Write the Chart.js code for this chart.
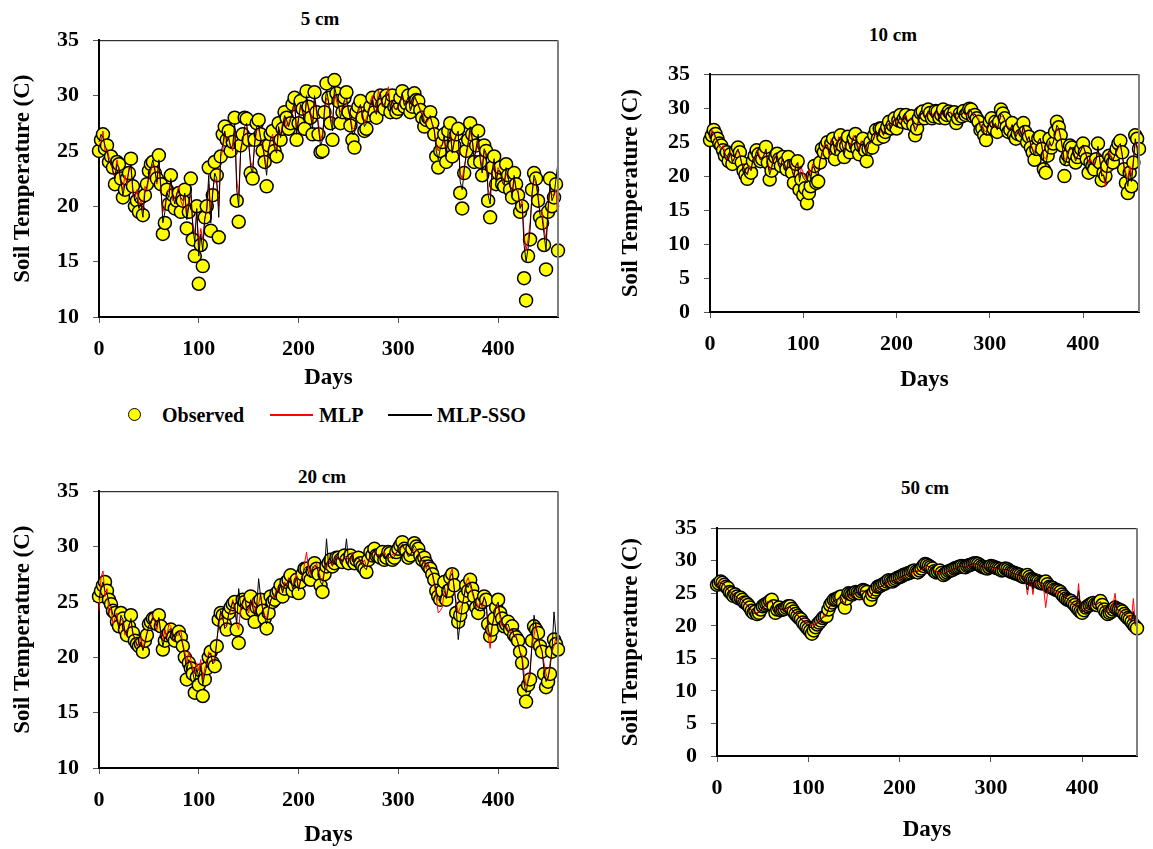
<!DOCTYPE html>
<html>
<head>
<meta charset="utf-8">
<script src="https://cdn.jsdelivr.net/npm/chart.js@4.4.0/dist/chart.umd.min.js"></script>
<style>
  body { margin: 0; background: #fff; width: 1153px; height: 849px; position: relative; overflow: hidden;
         font-family: "Liberation Serif", "Times New Roman", serif; }
  canvas { position: absolute; }
  .ttl { position: absolute; font-weight: bold; font-size: 19px; line-height: 22px; transform: translateX(-50%); white-space: nowrap; }
  .leg { position: absolute; font-weight: bold; font-size: 20px; line-height: 22px; white-space: nowrap; }
  .dot { position: absolute; width: 11px; height: 11px; border-radius: 50%; background: #ffff00; border: 1.5px solid #000; }
  .ln { position: absolute; height: 1.5px; }
</style>
</head>
<body>
<div class="ttl" style="left:320px; top:8px;">5 cm</div>
<div class="ttl" style="left:893px; top:24px;">10 cm</div>
<div class="ttl" style="left:322px; top:466px;">20 cm</div>
<div class="ttl" style="left:925px; top:477px;">50 cm</div>

<div class="dot" style="left:128px; top:408px;"></div>
<div class="leg" style="left:162px; top:404px;">Observed</div>
<div class="ln" style="left:270px; top:414px; width:43px; background:#ff0000;"></div>
<div class="leg" style="left:319px; top:404px;">MLP</div>
<div class="ln" style="left:388px; top:414px; width:44px; background:#000;"></div>
<div class="leg" style="left:437px; top:404px;">MLP-SSO</div>

<canvas id="c5" width="570" height="387" style="left:0px; top:13px;"></canvas>
<canvas id="c10" width="540" height="358" style="left:610px; top:47px;"></canvas>
<canvas id="c20" width="570" height="385" style="left:0px; top:464px;"></canvas>
<canvas id="c50" width="540" height="348" style="left:610px; top:501px;"></canvas>

<script>
// days (every 2nd day)
var days = [0,2,4,6,8,10,12,14,16,18,
  20,22,24,26,28,30,32,34,36,38,
  40,42,44,46,48,50,52,54,56,58,
  60,62,64,66,68,70,72,74,76,78,
  80,82,84,86,88,90,92,94,96,98,
  100,102,104,106,108,110,112,114,116,118,
  120,122,124,126,128,130,132,134,136,138,
  140,142,144,146,148,150,152,154,156,158,
  160,162,164,166,168,170,172,174,176,178,
  180,182,184,186,188,190,192,194,196,198,
  200,202,204,206,208,210,212,214,216,218,
  220,222,224,226,228,230,232,234,236,238,
  240,242,244,246,248,250,252,254,256,258,
  260,262,264,266,268,270,272,274,276,278,
  280,282,284,286,288,290,292,294,296,298,
  300,302,304,306,308,310,312,314,316,318,
  320,322,324,326,328,330,332,334,336,338,
  340,342,344,346,348,350,352,354,356,358,
  360,362,364,366,368,370,372,374,376,378,
  380,382,384,386,388,390,392,394,396,398,
  400,402,404,406,408,410,412,414,416,418,
  420,422,424,426,428,430,432,434,436,438,
  440,442,444,446,448,450,452,454,456,458,
  460];

var xTicks = [0, 100, 200, 300, 400];
var yTicksA = [10, 15, 20, 25, 30, 35];
var yTicksB = [0, 5, 10, 15, 20, 25, 30, 35];

// 5 cm
var obs5 = [25.0,26.0,26.5,25.2,25.5,24.0,24.5,23.5,22.0,24.0,
  23.8,22.5,20.8,21.5,22.5,23.0,24.3,21.8,20.0,20.5,
  19.5,20.8,19.2,21.0,22.0,23.2,23.8,24.0,23.0,22.5,
  24.6,22.0,17.5,18.5,21.5,20.2,22.8,21.0,19.8,20.5,
  21.2,19.5,20.5,21.5,18.0,19.5,22.5,17.0,15.5,20.0,
  13.0,16.5,14.6,19.0,20.0,23.5,17.8,21.0,24.0,22.8,
  17.2,24.5,26.5,27.2,26.0,26.8,25.0,25.8,28.0,20.5,
  18.6,25.5,26.5,28.0,27.9,26.0,23.0,22.5,26.0,27.5,
  27.8,26.5,25.0,24.0,21.8,25.5,26.5,26.8,25.0,24.5,
  27.5,26.0,27.0,28.5,28.0,27.0,27.5,29.2,29.8,26.0,
  27.5,29.5,28.8,27.0,30.4,29.0,28.0,26.5,30.3,28.5,
  26.5,24.9,25.0,28.5,31.1,29.8,27.5,26.0,31.4,30.2,
  29.5,27.5,28.5,29.8,30.3,28.5,27.3,26.0,25.3,28.5,
  29.0,29.5,28.0,26.8,27.0,28.2,29.0,29.8,28.5,28.0,
  29.5,30.0,29.2,28.8,30.0,29.5,28.5,30.0,29.0,28.5,
  28.8,29.8,30.4,29.0,29.3,30.0,28.5,29.0,30.2,29.6,
  29.5,28.7,28.0,27.2,27.8,28.0,28.5,27.5,26.5,24.5,
  23.5,25.0,25.8,26.5,24.0,26.8,27.5,24.5,25.5,26.5,
  27.0,21.2,19.8,23.0,25.0,26.0,27.5,26.5,24.0,25.5,
  26.8,24.0,22.8,25.5,25.0,20.5,19.0,23.5,24.5,22.0,
  23.0,23.5,22.0,21.8,23.8,22.8,21.5,20.8,23.0,22.0,
  21.0,19.5,20.0,13.5,11.5,15.5,17.0,21.5,23.0,22.5,
  20.5,19.0,18.5,16.5,14.3,19.5,22.5,20.0,20.8,22.0,
  16.0];
var mlp5 = [25.5,25.8,26.8,25.0,25.2,24.5,24.0,23.0,22.8,24.2,
  23.2,22.0,21.5,22.8,22.0,23.5,23.5,21.0,20.8,21.5,
  20.2,20.5,19.6,21.8,21.5,22.5,23.2,23.8,23.5,22.0,
  24.0,21.5,19.5,20.0,21.0,21.5,22.2,20.5,20.8,21.0,
  21.8,20.5,20.0,21.0,19.2,20.5,21.0,18.5,17.5,19.5,
  16.5,18.0,17.0,19.0,19.5,22.0,19.0,21.5,22.5,22.0,
  20.0,24.5,25.0,26.5,26.2,26.0,25.5,25.0,27.0,22.5,
  21.0,25.0,25.8,27.0,27.2,25.5,24.0,23.5,25.5,26.8,
  27.0,26.0,25.8,24.5,23.5,25.0,26.0,26.5,25.5,25.0,
  27.0,26.5,27.5,28.0,27.2,27.5,28.0,28.5,29.2,27.0,
  28.0,29.0,28.5,28.0,29.5,29.0,28.5,27.5,29.8,28.5,
  27.5,26.0,26.5,28.5,29.8,29.5,28.0,27.5,30.2,29.5,
  29.0,28.5,29.0,29.5,29.5,28.5,28.0,27.0,27.0,28.0,
  28.5,29.0,28.5,27.5,28.0,28.5,29.5,30.0,28.8,28.5,
  30.5,29.8,29.0,29.2,29.8,30.8,29.0,29.5,28.8,28.8,
  29.2,29.5,30.0,29.2,29.5,29.8,28.8,29.2,29.8,29.5,
  29.0,28.8,28.5,27.8,27.5,27.8,28.0,27.5,27.0,25.5,
  25.0,25.5,25.5,26.0,25.0,26.5,26.5,25.0,26.0,26.5,
  26.5,23.0,22.5,23.5,24.5,25.5,26.8,26.0,24.5,25.0,
  26.0,24.5,23.5,25.0,24.5,21.5,21.0,23.0,24.0,22.5,
  23.5,23.0,22.5,22.0,23.0,22.5,22.0,21.0,22.5,21.5,
  21.5,20.0,20.5,17.5,16.0,17.0,18.5,21.0,22.5,22.0,
  21.0,19.5,19.5,18.0,17.0,19.5,21.5,21.0,21.0,21.5,
  18.5];
var sso5 = [25.8,26.5,26.2,25.5,25.0,24.0,24.2,23.2,22.5,23.8,
  23.5,22.2,21.0,22.0,22.2,23.2,23.8,21.5,20.5,20.8,
  19.8,20.2,19.0,21.2,21.8,22.8,23.5,24.2,23.2,22.2,
  24.2,21.8,18.5,19.5,21.2,20.8,22.5,21.0,20.2,21.2,
  21.5,20.8,20.5,21.2,18.8,20.0,21.8,18.0,16.8,19.8,
  15.5,17.5,16.0,18.8,19.8,22.8,18.5,21.2,23.0,22.5,
  19.0,24.8,25.5,26.8,25.8,26.2,25.2,25.5,27.5,21.5,
  20.0,25.2,26.0,27.2,27.5,25.8,23.5,23.0,25.8,27.2,
  27.3,26.2,25.5,24.2,22.8,25.2,26.2,26.2,25.2,24.8,
  27.2,26.2,27.2,28.2,27.8,27.2,27.8,28.8,29.5,26.5,
  27.8,29.2,28.7,27.5,30.0,28.8,28.2,27.0,30.0,28.8,
  27.0,25.5,26.0,28.8,30.5,29.5,27.8,26.8,30.8,30.0,
  29.2,28.0,28.8,29.6,29.8,28.8,27.8,26.5,26.5,28.2,
  28.8,29.2,28.2,27.2,27.5,28.4,29.2,29.6,28.6,28.3,
  29.8,30.2,29.1,28.9,29.9,30.2,28.8,29.6,28.9,28.7,
  29.0,29.6,30.2,29.1,29.4,29.9,28.6,29.1,30.0,29.6,
  29.2,28.6,28.2,27.5,27.7,27.9,28.2,27.4,26.8,25.0,
  24.2,25.2,25.6,26.4,24.5,26.9,27.0,24.8,25.8,26.4,
  26.8,22.2,21.5,23.2,24.8,25.8,27.2,26.2,24.2,25.3,
  26.5,24.2,23.0,25.2,24.8,21.0,20.2,23.2,24.3,22.2,
  23.2,23.2,22.2,21.9,23.5,22.6,21.8,20.9,22.8,21.6,
  21.2,19.8,20.2,16.5,15.0,16.2,17.8,21.2,22.8,22.3,
  20.8,19.2,19.0,17.5,16.0,19.8,22.0,20.5,21.0,22.5,
  24.0];

// 10 cm
var obs10 = [25.3,26.0,26.8,26.2,25.5,24.8,24.5,23.8,23.0,23.5,
  22.2,23.2,21.8,22.8,23.8,24.2,23.5,22.0,20.8,20.2,
  19.6,21.0,20.5,22.2,23.0,23.8,23.2,22.2,22.5,23.5,
  24.3,22.0,19.5,20.8,22.0,22.8,23.3,22.5,21.5,22.8,
  22.0,21.0,22.8,21.5,20.5,19.0,21.8,22.2,18.0,19.5,
  17.2,18.2,16.0,17.5,18.5,20.0,21.5,19.0,19.2,22.0,
  24.0,23.5,24.5,25.0,23.5,24.8,25.5,22.5,24.0,25.2,
  26.0,24.5,22.8,24.5,25.8,23.5,24.5,25.5,26.2,24.0,
  23.2,24.5,25.5,23.8,22.2,24.0,25.0,24.2,26.0,26.8,
  25.5,27.0,27.0,25.8,26.5,27.2,28.0,27.0,27.5,28.5,
  27.0,28.2,29.0,28.0,28.5,29.0,27.8,28.5,28.8,27.5,
  26.0,27.0,28.5,29.3,29.5,28.5,29.0,29.8,29.3,28.5,
  28.8,29.6,29.5,28.6,29.0,29.8,28.5,29.0,29.5,29.2,
  28.8,29.4,27.8,28.5,29.2,28.8,29.6,29.0,29.3,29.9,
  29.8,28.8,29.0,28.5,28.0,26.8,27.0,26.0,25.3,27.0,
  28.0,28.5,27.0,28.0,26.5,28.0,29.8,29.2,28.5,27.2,
  26.5,26.8,27.8,26.0,25.5,26.2,27.0,26.0,27.8,26.5,
  25.0,25.8,24.2,23.5,22.4,24.0,25.5,25.8,24.0,21.0,
  20.5,23.0,25.5,24.2,24.8,26.5,28.0,27.2,26.0,24.5,
  20.0,22.5,23.0,24.5,24.2,23.2,22.0,22.8,23.5,24.0,
  24.8,23.5,22.5,20.5,22.0,21.5,21.0,22.5,24.8,22.0,
  19.4,20.5,20.0,21.5,23.0,22.5,22.0,23.2,24.0,24.8,
  25.2,23.5,21.0,19.0,17.5,20.5,18.5,22.0,26.0,25.5,
  24.0];
var mlp10 = [25.8,26.8,26.2,25.5,25.0,24.2,24.0,24.5,23.5,22.5,
  22.8,23.5,22.2,22.5,23.2,23.8,23.0,22.0,21.5,20.5,
  20.5,21.5,21.0,22.5,22.5,23.8,23.5,22.5,22.8,23.0,
  23.8,22.0,20.8,21.5,22.5,23.0,22.8,21.8,21.8,22.5,
  21.5,21.0,22.2,21.8,21.0,20.2,21.5,22.0,19.8,21.2,
  20.5,19.8,19.5,21.0,20.0,21.8,21.0,20.5,20.5,22.5,
  23.0,24.5,24.8,24.2,23.0,25.5,25.0,23.5,24.5,25.8,
  25.5,24.5,23.5,24.8,25.0,24.2,25.2,26.0,25.8,24.5,
  24.0,25.2,25.0,24.2,23.5,24.8,24.8,25.2,25.5,26.5,
  26.0,26.5,26.5,26.2,27.0,27.5,27.5,27.2,27.8,28.5,
  27.5,28.2,28.5,28.0,28.2,29.0,28.0,28.2,28.5,27.8,
  27.0,27.5,28.2,29.0,29.2,28.8,28.8,29.5,29.0,28.8,
  29.2,29.5,29.0,28.5,29.3,29.6,28.8,29.0,29.2,29.5,
  29.0,29.3,28.5,28.8,29.0,29.2,29.3,29.0,29.0,29.8,
  29.5,29.0,29.2,28.8,28.5,27.5,27.5,26.8,26.5,27.2,
  27.5,28.0,27.2,27.5,27.0,28.0,28.8,28.8,28.2,27.5,
  27.2,27.0,27.5,26.5,26.2,26.5,26.8,26.0,27.2,26.0,
  25.5,25.8,24.8,24.0,23.5,24.5,25.0,25.5,24.5,22.8,
  22.5,23.5,24.8,24.5,25.0,26.0,27.0,26.8,25.5,24.0,
  22.5,22.5,23.5,24.2,24.0,23.5,22.5,23.0,23.2,23.8,
  24.5,23.8,23.0,22.0,22.5,22.0,21.8,22.5,24.0,22.5,
  20.5,20.0,18.5,21.0,23.5,23.0,22.5,23.0,23.5,24.2,
  24.5,23.0,21.5,20.5,19.5,21.5,20.0,22.5,25.0,24.5,
  23.5];
var sso10 = [25.5,26.4,26.5,25.8,25.2,24.5,24.2,24.0,23.2,23.0,
  22.5,23.4,22.0,22.6,23.5,24.0,23.2,21.8,21.2,20.6,
  20.2,21.2,20.8,22.4,22.8,23.6,23.0,22.4,22.6,23.2,
  24.0,21.6,20.2,21.2,22.2,22.8,23.0,22.0,21.6,22.6,
  21.8,20.8,22.5,21.6,20.8,19.8,21.6,22.0,19.2,20.6,
  19.8,19.4,19.0,20.6,19.6,21.4,21.2,20.2,20.2,22.2,
  23.5,24.0,24.5,24.6,23.2,25.2,25.2,23.2,24.2,25.4,
  25.8,24.6,23.2,24.6,25.4,24.0,24.8,25.6,26.0,24.2,
  23.6,24.8,25.2,24.0,23.0,24.6,25.0,25.0,25.8,26.6,
  25.8,26.8,26.8,26.0,26.8,27.4,27.8,27.0,27.6,28.4,
  27.2,28.0,28.8,28.2,28.4,28.8,27.9,28.4,28.6,27.6,
  26.6,27.2,28.4,29.1,29.4,28.6,29.0,29.6,29.2,28.6,
  29.0,29.6,29.3,28.4,29.1,29.7,28.6,29.0,29.4,29.3,
  28.9,29.3,28.2,28.6,29.1,29.0,29.5,29.1,29.2,29.8,
  29.6,28.9,29.1,28.6,28.2,27.2,27.2,26.4,26.0,27.1,
  27.8,28.2,27.1,27.8,26.8,28.0,29.2,29.0,28.4,27.4,
  26.8,26.8,27.6,26.2,25.8,26.4,27.0,26.0,27.5,26.2,
  25.2,25.8,24.5,23.8,23.0,24.2,25.2,25.6,24.2,22.2,
  21.5,23.2,25.2,24.4,24.9,26.2,27.5,27.0,25.8,24.2,
  21.5,22.2,23.2,24.3,24.1,23.4,22.2,22.9,23.4,23.9,
  24.6,23.6,22.8,21.2,22.2,21.8,21.4,22.4,24.4,22.2,
  20.0,20.2,19.2,21.2,23.2,22.8,22.2,23.1,23.8,24.5,
  24.8,23.2,21.2,19.8,18.5,20.8,19.2,22.0,25.5,24.0,
  20.0];

// 20 cm
var obs20 = [25.5,26.0,26.5,26.8,26.0,25.2,24.8,24.2,24.0,23.2,
  22.8,24.0,23.5,22.5,22.0,22.8,23.8,22.2,21.5,21.2,
  21.0,21.2,20.5,21.5,22.0,23.0,23.2,23.5,23.5,23.0,
  23.8,22.8,20.7,21.5,22.0,22.2,22.5,21.8,21.5,22.0,
  22.3,21.8,21.0,20.0,18.0,19.5,19.0,18.5,16.8,18.2,
  17.5,18.8,16.5,18.0,19.0,20.0,20.5,19.5,19.2,21.0,
  23.4,24.0,23.8,23.0,22.5,24.0,24.5,24.8,25.0,22.5,
  21.3,24.5,25.2,25.0,24.0,24.8,25.5,24.2,23.2,24.5,
  25.0,25.2,24.2,23.5,22.6,24.0,25.5,25.0,25.2,25.8,
  26.0,26.5,25.5,26.2,26.8,27.0,27.4,26.0,26.5,27.0,
  25.8,26.8,27.5,28.0,28.0,27.2,27.0,27.8,28.5,28.0,
  27.5,26.5,25.9,27.5,28.2,28.5,28.8,28.2,28.5,29.0,
  29.0,28.8,28.6,29.2,28.8,28.5,29.2,28.8,28.5,28.8,
  29.0,28.5,28.2,28.0,27.7,28.8,29.5,29.2,29.8,29.2,
  29.2,29.0,29.5,28.8,29.0,29.5,29.4,28.8,29.0,29.5,
  29.8,30.1,30.4,29.8,29.6,29.0,29.2,29.8,30.3,30.0,
  29.8,29.2,28.8,29.0,28.5,28.2,28.0,27.5,27.0,26.0,
  25.5,25.2,26.0,26.8,25.2,26.0,27.2,27.5,26.5,24.0,
  23.2,23.8,24.5,25.5,26.5,26.0,27.0,26.2,25.5,24.5,
  24.0,24.8,25.0,25.5,25.2,23.0,21.9,22.5,23.5,24.5,
  25.2,24.0,23.5,22.8,23.0,23.2,22.5,22.8,22.0,21.8,
  21.5,20.5,19.5,17.0,16.0,17.5,18.0,21.5,22.8,22.5,
  22.2,21.0,20.5,18.5,17.3,17.8,18.5,20.5,21.6,21.2,
  20.7];
var mlp20 = [24.2,27.2,27.8,25.5,26.2,24.0,24.5,23.0,23.5,24.0,
  22.5,23.5,23.2,22.0,22.2,23.0,23.2,22.0,21.8,21.0,
  21.2,21.8,20.8,21.5,22.2,22.8,23.0,23.8,23.2,22.5,
  23.5,22.0,21.5,22.5,21.8,23.0,22.8,21.5,21.8,22.0,
  22.0,22.5,21.2,20.5,19.5,20.5,19.8,19.0,18.5,19.5,
  18.8,19.8,18.0,19.0,19.5,20.5,20.2,19.5,20.0,21.5,
  22.8,24.0,23.5,22.8,23.0,23.8,24.2,25.2,24.5,23.0,
  22.5,24.5,24.8,25.5,24.5,24.0,25.0,25.2,24.0,24.8,
  24.8,25.8,24.5,23.8,23.5,24.5,25.0,25.5,25.5,26.2,
  25.8,26.5,26.0,26.8,26.5,27.2,27.0,26.5,26.8,27.5,
  26.2,27.0,27.2,28.5,29.5,28.0,27.5,28.2,28.0,28.5,
  27.8,27.2,27.0,27.8,28.0,28.8,28.5,28.2,28.8,29.2,
  28.8,29.0,28.5,29.2,29.0,28.8,28.8,29.5,28.6,28.8,
  29.0,28.5,28.5,28.8,28.2,28.5,29.2,29.5,29.5,29.2,
  29.3,29.0,29.2,29.5,29.2,29.0,29.0,29.3,29.2,29.5,
  29.6,29.8,30.0,29.8,29.5,29.2,29.3,29.5,29.8,29.6,
  29.5,29.0,28.6,28.5,28.0,28.5,27.8,27.5,26.5,25.5,
  24.0,24.2,24.5,26.0,25.5,26.5,27.5,28.0,26.0,25.0,
  24.0,24.5,24.8,25.5,26.8,27.2,26.5,25.8,25.2,25.0,
  24.5,25.0,24.5,25.5,24.8,22.0,20.8,22.8,23.8,24.8,
  24.5,23.5,22.8,23.0,22.8,22.5,22.2,22.5,21.8,22.0,
  21.2,20.5,20.2,18.5,17.4,18.0,19.0,21.0,22.0,23.0,
  21.8,21.0,20.5,19.5,18.5,18.0,19.5,20.5,21.0,21.8,
  21.2];
var sso20 = [25.2,26.2,26.8,26.0,25.8,25.0,24.6,23.8,23.8,23.4,
  22.6,23.8,23.4,22.4,22.0,22.8,23.5,22.2,21.6,21.2,
  20.9,21.4,20.6,21.2,22.1,22.9,23.1,23.6,23.4,22.8,
  23.6,22.2,21.0,21.8,21.9,22.4,22.6,21.6,21.6,22.2,
  22.2,21.8,21.1,20.0,18.8,19.8,19.4,18.6,17.8,19.0,
  18.2,19.2,17.5,18.5,19.2,20.2,20.4,19.4,19.6,21.4,
  23.2,24.2,23.6,22.6,22.8,24.0,24.4,25.0,24.8,23.0,
  26.2,24.6,25.0,25.4,24.2,24.4,25.2,24.5,23.8,24.6,
  27.1,25.4,24.3,23.6,23.0,24.2,25.2,25.4,25.3,26.0,
  25.9,26.6,25.8,26.5,26.6,27.0,27.2,26.2,26.6,27.2,
  26.0,26.9,27.4,28.0,28.2,27.6,27.2,28.0,28.3,28.2,
  27.6,26.8,26.5,27.8,30.7,28.4,28.6,28.3,28.6,29.1,
  28.9,28.9,28.6,29.1,30.7,28.8,29.0,29.3,28.6,28.9,
  29.0,28.6,28.3,28.1,27.9,28.7,29.3,29.4,29.6,29.3,
  29.2,29.0,29.4,28.9,29.1,29.4,29.2,28.9,29.1,29.4,
  29.7,30.0,30.2,29.8,29.5,29.1,29.2,29.7,30.1,29.8,
  29.6,29.1,28.7,28.8,28.2,28.3,27.9,27.6,26.8,26.0,
  25.2,25.0,25.8,26.5,25.3,26.2,27.3,27.6,26.3,24.5,
  21.6,23.2,24.6,25.6,26.6,26.3,26.8,26.1,25.4,24.4,
  24.2,24.8,24.8,25.4,25.0,22.6,21.8,22.8,23.6,24.6,
  25.0,23.9,23.2,22.9,22.9,23.0,22.4,22.6,21.9,21.8,
  21.3,20.4,19.8,17.6,16.8,17.8,18.4,21.4,23.8,22.6,
  22.0,21.1,20.6,18.8,17.8,18.2,19.0,20.6,24.1,22.0,
  21.0];

// 50 cm
var obs50 = [26.3,26.5,26.8,26.6,26.3,26.0,25.8,25.2,25.0,24.6,
  24.8,24.5,24.2,24.3,24.0,23.6,23.5,23.2,22.8,22.3,
  22.0,22.2,21.8,22.0,22.5,23.0,23.2,23.4,23.5,23.8,
  24.0,23.0,22.0,22.5,22.8,22.4,22.5,22.6,22.8,23.0,
  23.0,22.6,22.2,21.8,21.5,21.2,21.0,20.5,20.2,19.8,
  19.5,19.2,18.8,19.3,19.8,20.2,20.5,20.8,21.2,21.4,
  21.5,22.5,23.2,23.6,24.0,24.1,24.2,24.4,24.5,23.5,
  22.8,24.2,25.0,24.9,24.8,25.0,25.2,25.1,25.0,25.3,
  25.5,25.4,25.2,24.5,24.0,24.8,25.2,25.6,26.0,26.1,
  26.2,26.4,26.5,26.8,27.0,26.9,26.8,27.0,27.2,27.4,
  27.5,27.6,27.8,27.9,28.0,28.1,28.2,28.4,28.5,28.3,
  28.2,28.5,28.8,29.2,29.5,29.4,29.2,29.0,28.8,28.4,
  28.2,28.3,28.5,28.1,27.8,28.0,28.2,28.4,28.5,28.6,
  28.8,28.9,29.0,29.1,29.2,29.1,29.0,29.2,29.3,29.4,
  29.5,29.6,29.6,29.5,29.3,29.1,29.0,28.9,28.8,29.0,
  29.2,29.1,29.0,28.9,28.8,28.7,28.5,28.6,28.8,28.7,
  28.5,28.3,28.2,28.1,28.0,27.9,27.8,27.6,27.5,27.6,
  27.8,27.5,27.2,27.1,27.0,26.9,26.8,26.6,26.5,26.6,
  26.8,26.4,26.0,25.9,25.8,25.6,25.5,25.4,25.2,24.8,
  24.5,24.2,24.0,23.9,23.8,23.5,23.2,22.8,22.5,22.2,
  22.0,22.4,22.8,23.0,23.2,23.4,23.5,23.3,23.2,23.5,
  23.8,23.2,22.5,22.1,21.8,22.0,22.2,22.5,22.8,22.6,
  22.5,22.4,22.2,21.8,21.5,21.2,21.0,20.6,20.2,19.9,
  19.6];
var mlp50 = [26.0,26.8,27.0,26.4,26.2,25.8,25.5,25.4,25.2,24.8,
  24.5,24.2,24.0,24.4,23.8,23.4,23.2,23.0,22.8,22.5,
  22.2,22.0,22.0,22.2,22.6,22.8,23.0,23.6,23.8,23.6,
  23.8,22.8,22.4,22.4,22.6,22.8,22.8,22.4,22.6,22.8,
  22.8,22.5,22.0,22.0,21.8,21.4,21.2,20.8,20.8,20.4,
  20.5,20.2,20.2,20.0,20.5,20.6,20.8,21.0,21.5,21.6,
  21.8,22.5,23.0,23.5,23.8,24.0,24.0,24.2,24.2,23.8,
  23.5,24.5,24.8,24.6,24.5,24.8,25.0,25.0,25.2,25.4,
  25.2,25.2,25.0,24.8,24.5,25.0,25.5,25.6,25.8,26.0,
  26.0,26.2,26.2,26.5,26.8,27.0,27.0,27.0,27.0,27.2,
  27.2,27.4,27.6,27.7,27.8,28.0,28.0,28.2,28.2,28.4,
  28.5,28.5,28.6,28.8,29.0,29.2,29.0,28.8,28.6,28.5,
  28.4,28.2,28.2,28.1,28.0,28.2,28.4,28.5,28.6,28.7,
  28.8,28.9,29.0,29.0,29.0,29.1,29.2,29.2,29.2,29.3,
  29.4,29.4,29.4,29.3,29.2,29.1,29.0,29.0,29.0,29.0,
  29.0,28.9,28.8,28.8,28.7,28.7,28.6,28.6,28.6,28.5,
  28.4,28.2,28.0,28.0,28.0,27.8,27.5,27.6,27.8,26.8,
  24.8,26.5,27.0,24.8,26.8,26.6,26.5,26.5,26.2,25.5,
  22.8,25.0,26.2,25.8,25.5,25.2,25.0,25.2,25.0,24.8,
  24.5,24.5,24.2,23.8,23.5,23.2,23.0,23.2,26.5,23.0,
  22.2,22.3,22.5,22.8,23.0,23.2,23.2,23.4,23.5,23.6,
  23.5,23.2,22.8,22.4,22.0,22.2,22.5,23.5,25.0,22.5,
  22.2,22.1,22.0,21.8,21.8,21.6,21.2,21.0,24.2,20.5,
  20.0];
var sso50 = [26.2,26.6,26.6,26.5,26.4,25.9,25.6,25.3,25.0,24.7,
  24.6,24.4,24.1,24.2,23.9,23.6,23.4,23.1,22.6,22.3,
  21.9,22.0,21.9,22.1,22.4,22.9,23.1,23.4,23.6,23.7,
  23.9,22.9,22.2,22.5,22.7,22.5,22.6,22.6,22.7,22.9,
  22.9,22.5,22.1,21.9,21.6,21.3,21.1,20.7,20.5,20.2,
  20.0,19.8,19.6,19.8,20.2,20.4,20.6,20.9,21.3,21.4,
  21.6,22.6,23.1,23.5,23.9,24.0,24.1,24.3,24.4,23.6,
  23.2,24.3,24.9,24.8,24.7,24.9,25.1,25.1,25.1,25.3,
  25.4,25.3,25.1,24.6,24.3,24.9,25.3,25.6,25.9,26.0,
  26.1,26.3,26.4,26.7,26.9,26.9,26.9,27.0,27.1,27.3,
  27.4,27.5,27.7,27.8,27.9,28.0,28.1,28.3,28.4,28.4,
  28.3,28.6,28.7,29.0,29.3,29.3,29.1,28.9,28.7,28.4,
  28.3,28.3,28.4,28.1,27.9,28.1,28.3,28.4,28.5,28.7,
  28.8,28.9,29.0,29.1,29.1,29.1,29.0,29.2,29.3,29.4,
  29.5,29.5,29.5,29.4,29.2,29.1,29.0,28.9,28.9,29.0,
  29.1,29.0,28.9,28.9,28.8,28.7,28.5,28.6,28.7,28.6,
  28.5,28.2,28.1,28.0,27.9,27.8,27.7,27.6,27.6,27.0,
  25.5,26.8,27.1,25.6,27.0,26.9,26.9,26.6,26.7,26.2,
  25.0,25.8,25.9,25.8,25.7,25.5,25.4,25.3,25.1,24.9,
  24.4,24.3,24.1,23.9,23.7,23.4,23.1,23.2,25.4,22.8,
  22.1,22.4,22.7,22.9,23.1,23.2,23.4,23.3,23.3,23.5,
  23.7,23.1,22.6,22.3,21.9,22.1,22.3,22.9,24.0,22.6,
  22.4,22.3,22.1,21.8,21.6,21.3,21.0,20.7,22.2,20.2,
  19.8];

var tickFont = { family: '"Liberation Serif", "Times New Roman", serif', size: 22, weight: 'bold' };
var titleFont = { family: '"Liberation Serif", "Times New Roman", serif', size: 23, weight: 'bold' };

function pts(vals) {
  var out = [];
  for (var i = 0; i < days.length; i++) out.push({ x: days[i], y: vals[i] });
  return out;
}

// frame on top and right of plot area
var framePlugin = {
  id: 'frame',
  afterDraw: function (chart) {
    var a = chart.chartArea, ctx = chart.ctx;
    ctx.save();
    ctx.lineWidth = 1;
    ctx.strokeStyle = '#000';
    ctx.beginPath(); ctx.moveTo(a.left, a.top + 0.5); ctx.lineTo(a.right, a.top + 0.5); ctx.stroke();
    ctx.lineWidth = 2;
    ctx.strokeStyle = '#7f7f7f';
    ctx.beginPath(); ctx.moveTo(a.right, a.top); ctx.lineTo(a.right, a.bottom); ctx.stroke();
    ctx.restore();
  }
};

function makePanel(id, obs, mlp, sso, yTicks, p) {
  new Chart(document.getElementById(id), {
    type: 'scatter',
    data: {
      datasets: [
        { label: 'MLP-SSO', data: pts(sso), showLine: true, borderColor: '#000', borderWidth: 1,
          pointRadius: 0, order: 1, clip: false },
        { label: 'MLP', data: pts(mlp), showLine: true, borderColor: '#ff0000', borderWidth: 1,
          pointRadius: 0, order: 2, clip: false },
        { label: 'Observed', data: pts(obs), showLine: false, pointRadius: 6.5, pointBorderWidth: 1.5,
          backgroundColor: '#ffff00', borderColor: '#000', order: 3, clip: false }
      ]
    },
    options: {
      responsive: false,
      animation: false,
      devicePixelRatio: 1,
      // top space comes from the y tick label overflow (half label + tick padding)
      layout: { padding: { left: 0, top: 0, right: p.right, bottom: 0 } },
      plugins: { legend: { display: false }, tooltip: { enabled: false } },
      scales: {
        x: {
          type: 'linear', min: 0, max: 460,
          afterBuildTicks: function (s) { s.ticks = xTicks.map(function (v) { return { value: v }; }); },
          afterFit: function (s) { s.height = p.xH; },
          grid: { drawOnChartArea: false, drawTicks: true, tickLength: 6, color: '#555', lineWidth: 1 },
          border: { display: true, color: '#000', width: 2 },
          ticks: { color: '#000', font: tickFont, padding: 13, maxRotation: 0 },
          title: { display: true, text: 'Days', color: '#000', font: titleFont, padding: { top: 0, bottom: p.xTitlePad } }
        },
        y: {
          type: 'linear', min: yTicks[0], max: yTicks[yTicks.length - 1],
          afterBuildTicks: function (s) { s.ticks = yTicks.map(function (v) { return { value: v }; }); },
          afterFit: function (s) { s.width = p.yW; },
          grid: { drawOnChartArea: false, drawTicks: true, tickLength: 6, color: '#555', lineWidth: 1 },
          border: { display: true, color: '#000', width: 2 },
          ticks: { color: '#000', font: tickFont, padding: 14 },
          title: { display: true, text: 'Soil Temperature (C)', color: '#000', font: titleFont, padding: { top: p.yTitlePad, bottom: 0 } }
        }
      }
    },
    plugins: [framePlugin]
  });
}

makePanel('c5', obs5, mlp5, sso5, yTicksA, { right: 12, yW: 99, xH: 83, xTitlePad: 8, yTitlePad: 9 });
makePanel('c10', obs10, mlp10, sso10, yTicksB, { right: 11, yW: 100, xH: 93, xTitlePad: 11, yTitlePad: 7 });
makePanel('c20', obs20, mlp20, sso20, yTicksA, { right: 12, yW: 99, xH: 81, xTitlePad: 0, yTitlePad: 9 });
makePanel('c50', obs50, mlp50, sso50, yTicksB, { right: 13, yW: 107, xH: 93, xTitlePad: 5, yTitlePad: 7 });
</script>
</body>
</html>
